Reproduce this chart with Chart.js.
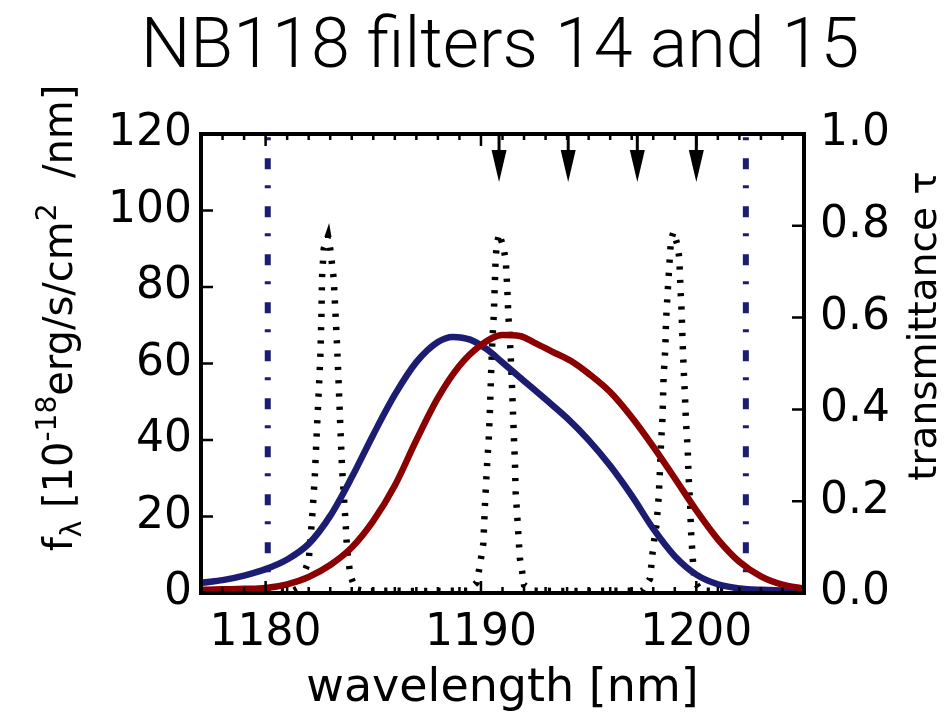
<!DOCTYPE html>
<html><head><meta charset="utf-8">
<script src="https://cdn.jsdelivr.net/npm/chart.js@4.4.1/dist/chart.umd.min.js"></script>
<style>html,body{margin:0;padding:0;background:#fff;}</style>
</head><body>
<canvas id="c" width="944" height="714"></canvas>
<script>
// ---------------- data ----------------
const titleText = 'NB118 filters 14 and 15';
const xLabel = 'wavelength [nm]';
const rightLabel = 'transmittance \u03C4';
const xTicks = [1180, 1190, 1200];
const yLeftTicks = [0, 20, 40, 60, 80, 100, 120];
const yRightTicks = [0, 0.2, 0.4, 0.6, 0.8, 1.0];

// dotted line spectrum (left axis, flux)
const lineLambda = [1177.0,1178.5,1180.0,1181.3,1181.67,1181.77,1182.0,1182.15,1182.28,1182.39,1182.47,1182.54,1182.59,1182.62,1182.70,1182.90,1183.01,1183.16,1183.26,1183.32,1183.40,1183.47,1183.55,1183.63,1183.71,1183.78,1183.86,1183.94,1184.17,1184.6,1186.0,1187.5,1189.4,
  1189.80,1189.91,1190.01,1190.11,1190.19,1190.29,1190.37,1190.42,1190.48,1190.53,1190.60,1190.64,1190.68,1190.73,1190.84,1191.04,1191.15,1191.22,1191.27,1191.35,1191.41,1191.46,1191.53,1191.58,1191.61,1191.69,1191.77,1191.81,1191.92,1192.00,1192.4,1194.0,1196.0,1197.5,
  1197.85,1197.97,1198.05,1198.15,1198.25,1198.31,1198.36,1198.43,1198.48,1198.56,1198.59,1198.66,1198.74,1198.82,1198.94,1199.13,1199.21,1199.26,1199.32,1199.36,1199.41,1199.47,1199.52,1199.60,1199.64,1199.71,1199.75,1199.83,1199.91,1200.2,1202.0,1203.5,1205.0];
const lineFlux = [0.5,0.5,0.6,0.6,1.8,5.0,8.4,18.9,29.9,43.8,52.9,61.6,72.1,82.6,90.0,93.3,89.6,82.3,71.5,64.4,53.8,43.3,32.7,25.7,18.7,11.5,7.9,4.5,1.0,0.5,0.6,0.5,0.6,
  2.7,6.0,9.4,12.9,23.7,34.1,41.1,48.5,59.0,66.0,73.2,80.2,87.2,90.9,94.0,90.5,87.0,79.9,72.6,65.6,58.4,51.2,40.7,33.8,26.5,19.6,12.3,8.9,5.3,2.1,0.6,0.5,0.6,0.6,
  3.7,10.6,14.1,17.8,24.9,32.0,39.0,45.9,56.6,63.9,70.8,77.8,85.1,92.2,94.4,90.9,87.5,80.2,73.1,66.0,58.9,51.9,44.6,37.7,30.7,23.7,16.5,9.4,3.1,0.6,0.5,0.6,0.5];

// filter 14 (blue) transmittance
const blueLambda = [1176.5,1177,1178,1179,1180,1181,1182,1183,1184,1185,1186,1187,1188,1188.7,1189.5,1190.3,1191,1192,1193,1194,1195,1196,1197,1198,1199,1200,1201,1202,1203,1205,1205.5];
const blueTau = [0.018,0.022,0.028,0.038,0.052,0.073,0.107,0.168,0.252,0.345,0.432,0.503,0.547,0.558,0.552,0.530,0.502,0.462,0.422,0.381,0.333,0.277,0.212,0.140,0.080,0.040,0.019,0.010,0.007,0.005,0.005];

// filter 15 (red) transmittance
const redLambda = [1176.5,1177,1178,1179,1180,1181,1182,1183,1184,1185,1186,1187,1188,1189,1190,1191,1191.8,1192.5,1193.3,1194.2,1195,1196,1197,1198,1199,1200,1201,1202,1203,1204,1205,1205.5];
const redTau = [0.006,0.007,0.008,0.009,0.011,0.019,0.035,0.061,0.099,0.157,0.234,0.333,0.425,0.495,0.540,0.562,0.560,0.545,0.526,0.505,0.478,0.438,0.383,0.319,0.250,0.180,0.117,0.068,0.036,0.018,0.010,0.009];

// filter edges (dash-dot verticals) and arrow markers
const filterEdges = [1180.1, 1202.3];
const arrowLambda = [1190.84, 1194.05, 1197.26, 1200.0];

// ---------------- chart ----------------
const BLUE = '#1c1c72';
const RED = '#8b0000';
const xy = (xs, ys) => xs.map((x, i) => ({x: x, y: ys[i]}));

const datasets = [
  {data: xy(redLambda, redTau), yAxisID: 'y2', borderColor: RED, borderWidth: 6.5, cubicInterpolationMode: 'monotone', pointRadius: 0, fill: false},
  {data: xy(blueLambda, blueTau), yAxisID: 'y2', borderColor: BLUE, borderWidth: 6.5, cubicInterpolationMode: 'monotone', pointRadius: 0, fill: false},
  {data: xy(lineLambda, lineFlux), yAxisID: 'y', borderColor: '#000', borderWidth: 6.5, borderDash: [3.2, 10.1], borderCapStyle: 'butt', tension: 0, pointRadius: 0, fill: false}
];
filterEdges.forEach(e => datasets.push({
  data: [{x: e, y: 120}, {x: e, y: 0}], yAxisID: 'y', borderColor: BLUE, borderWidth: 6,
  borderDash: [3, 18, 11, 16], borderDashOffset: -3.3, borderCapStyle: 'butt', pointRadius: 0, tension: 0, fill: false
}));

function drawRich(ctx, parts, cx, cy, rot) {
  ctx.save();
  ctx.translate(cx, cy);
  ctx.rotate(rot);
  ctx.fillStyle = '#000';
  ctx.textBaseline = 'alphabetic';
  ctx.textAlign = 'left';
  let total = 0;
  parts.forEach(p => { ctx.font = p.size + 'px "DejaVu Sans"'; p.w = ctx.measureText(p.t).width; total += p.w; });
  let x = -total / 2;
  parts.forEach(p => { ctx.font = p.size + 'px "DejaVu Sans"'; ctx.fillText(p.t, x, p.dy || 0); x += p.w; });
  ctx.restore();
}

const overlay = {
  id: 'overlay',
  afterDatasetsDraw(chart) {
    const ctx = chart.ctx, a = chart.chartArea;
    const xs = chart.scales.x, yl = chart.scales.y, yr = chart.scales.y2;
    ctx.save();
    ctx.strokeStyle = '#000';
    ctx.fillStyle = '#000';
    // inward ticks
    ctx.lineWidth = 2.5;
    ctx.beginPath();
    for (let v = 1177; v <= 1205; v++) {
      const px = xs.getPixelForValue(v);
      const len = xTicks.includes(v) ? 12 : 6;
      ctx.moveTo(px, a.bottom); ctx.lineTo(px, a.bottom - len);
      ctx.moveTo(px, a.top); ctx.lineTo(px, a.top + len);
    }
    yLeftTicks.forEach(v => { const py = yl.getPixelForValue(v); ctx.moveTo(a.left, py); ctx.lineTo(a.left + 12, py); });
    yRightTicks.forEach(v => { const py = yr.getPixelForValue(v); ctx.moveTo(a.right, py); ctx.lineTo(a.right - 12, py); });
    ctx.stroke();
    // arrows
    arrowLambda.forEach(l => {
      const px = xs.getPixelForValue(l);
      ctx.lineWidth = 3;
      ctx.beginPath(); ctx.moveTo(px, a.top); ctx.lineTo(px, a.top + 18); ctx.stroke();
      ctx.beginPath();
      ctx.moveTo(px - 7.5, a.top + 16); ctx.lineTo(px + 7.5, a.top + 16); ctx.lineTo(px, a.top + 48); ctx.closePath(); ctx.fill();
    });
    // frame
    ctx.lineWidth = 4;
    ctx.strokeRect(a.left, a.top, a.right - a.left, a.bottom - a.top);
    ctx.restore();
    // rotated axis titles
    drawRich(ctx, [
      {t: 'f', size: 40},
      {t: '\u03BB', size: 28, dy: 9},
      {t: ' [10', size: 40},
      {t: '-18', size: 28, dy: -16},
      {t: 'erg/s/cm', size: 40},
      {t: '2', size: 28, dy: -16},
      {t: '  /nm]', size: 40}
    ], 72, 318, -Math.PI / 2);
    drawRich(ctx, [{t: rightLabel, size: 39}], 936, 326, -Math.PI / 2);
  }
};

new Chart(document.getElementById('c'), {
  type: 'line',
  data: {datasets: datasets},
  options: {
    responsive: false, animation: false, devicePixelRatio: 1,
    layout: {padding: {left: 56, right: 0, top: 0, bottom: 0}},
    plugins: {
      legend: {display: false}, tooltip: {enabled: false},
      title: {display: true, text: titleText, fullSize: true, color: '#000',
        font: {family: 'Roboto', size: 70, weight: 300, lineHeight: 1}, padding: {top: 14, bottom: 50}}
    },
    scales: {
      x: {type: 'linear', position: 'bottom', min: 1177, max: 1205,
        afterBuildTicks: s => { s.ticks = xTicks.map(v => ({value: v})); },
        afterFit: s => { s.height = 121; },
        grid: {display: false, drawTicks: false}, border: {display: false},
        ticks: {color: '#000', font: {family: 'DejaVu Sans', size: 44}, padding: 14, maxRotation: 0, autoSkip: false, callback: v => String(v)},
        title: {display: true, text: xLabel, color: '#000', font: {family: 'DejaVu Sans', size: 46, lineHeight: 1.1}, padding: {top: 0, bottom: 0}}
      },
      y: {type: 'linear', position: 'left', min: 0, max: 120,
        afterBuildTicks: s => { s.ticks = yLeftTicks.map(v => ({value: v})); },
        afterFit: s => { s.width = 145; },
        grid: {display: false, drawTicks: false}, border: {display: false},
        ticks: {color: '#000', font: {family: 'DejaVu Sans', size: 44}, padding: 9}
      },
      y2: {type: 'linear', position: 'right', min: 0, max: 1,
        afterBuildTicks: s => { s.ticks = yRightTicks.map(v => ({value: v})); },
        afterFit: s => { s.width = 140; },
        grid: {display: false, drawTicks: false}, border: {display: false},
        ticks: {color: '#000', font: {family: 'DejaVu Sans', size: 44}, padding: 16, callback: v => v.toFixed(1)}
      }
    }
  },
  plugins: [overlay]
});
</script>
</body></html>
